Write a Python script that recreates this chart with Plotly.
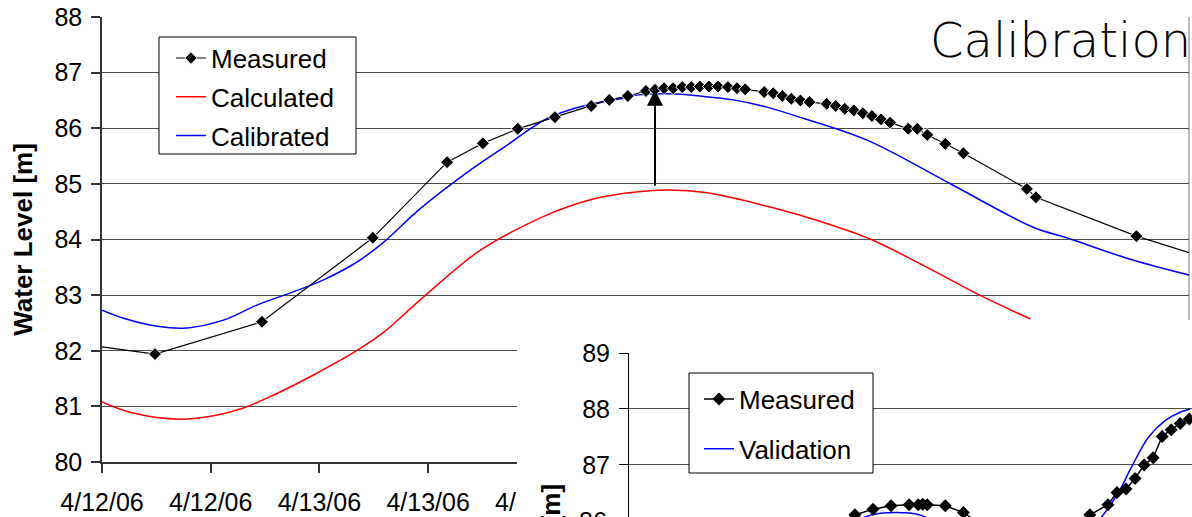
import plotly.graph_objects as go
import pandas as pd

# ---------------- data ----------------
START = pd.Timestamp("2006-04-12 00:00")

# Main chart: hours after 4/12/06 00:00
meas_hours = [0, 5.85, 17.66, 29.9, 38.1, 42.05, 45.9, 50.0, 54.0, 56.0,
              58.05, 60.05, 61.05, 62.05, 63.05, 64.05, 65.05, 66.0, 67.0, 68.0,
              69.1, 70.1, 71.0, 73.1, 74.1, 75.1, 76.1, 77.1, 78.1, 80.0,
              81.0, 82.0, 83.0, 84.0, 85.0, 86.0, 87.0, 89.0, 90.0, 91.1,
              93.1, 95.1, 102.1, 103.1, 114.2, 120.1]
meas_level = [82.07, 81.94, 82.52, 84.03, 85.39, 85.73, 85.99, 86.20, 86.40, 86.51,
              86.58, 86.67, 86.69, 86.72, 86.72, 86.74, 86.74, 86.75, 86.75, 86.75,
              86.74, 86.72, 86.70, 86.65, 86.63, 86.58, 86.53, 86.50, 86.47, 86.44,
              86.40, 86.35, 86.32, 86.27, 86.22, 86.16, 86.10, 85.99, 85.99, 85.88,
              85.72, 85.55, 84.91, 84.76, 84.06, 83.76]

calc_hours = [0, 3.4, 8.6, 12.3, 15.6, 18.9, 23.3, 27.7, 31.0, 35.1, 41.7,
              48.4, 52.0, 55.8, 62.4, 66.8, 74.1, 79.6, 84.8, 90.6, 96.9, 102.5]
calc_level = [81.08, 80.88, 80.77, 80.83, 80.97, 81.20, 81.56, 81.96, 82.32, 82.91, 83.80,
              84.39, 84.62, 84.78, 84.89, 84.84, 84.57, 84.31, 84.01, 83.54, 83.00, 82.57]

cal_hours = [0, 2.3, 6.1, 9.4, 13.4, 17.1, 20.8, 24.4, 28.2, 31.0, 35.1,
             40.7, 44.4, 49.2, 53.6, 57.5, 59.2, 62.9, 66.0, 69.7, 73.4, 77.0,
             84.4, 93.9, 102.8, 106.5, 113.8, 120.0]
cal_level = [82.73, 82.59, 82.44, 82.41, 82.55, 82.82, 83.04, 83.27, 83.60, 83.94, 84.55,
             85.25, 85.66, 86.18, 86.42, 86.54, 86.60, 86.62, 86.58, 86.51, 86.38, 86.20,
             85.79, 84.98, 84.22, 84.03, 83.63, 83.36]

# arrow from calculated peak up to measured
arrow_hour = 61.05
arrow_from = 84.94
arrow_to = 86.69

# Inset (validation) chart: hours after the start of its visible window
val_meas_hours = [23.0, 25.0, 27.0, 29.0, 31.0, 32.0, 32.5, 33.0, 35.0, 37.0,
                  39.0, 49.0, 51.0, 53.0, 54.0, 55.0, 56.0, 57.0, 58.0, 59.0,
                  60.0, 61.0, 62.0]
val_meas_level = [85.84, 86.11, 86.21, 86.27, 86.29, 86.29, 86.30, 86.29, 86.27, 86.15,
                  85.93, 85.88, 86.11, 86.29, 86.51, 86.57, 86.76, 87.00, 87.13, 87.51,
                  87.63, 87.74, 87.82]
val_hours = [22.0, 24.4, 26.9, 29.6, 32.1, 34.9, 37.0, 50.3, 52.3, 54.2, 55.6,
             57.5, 59.4, 61.1, 62.1]
val_level = [85.75, 85.95, 86.11, 86.15, 86.11, 85.90, 85.70, 85.70, 86.07, 86.52, 86.96,
             87.50, 87.80, 87.95, 88.00]

main_yticks = [80, 81, 82, 83, 84, 85, 86, 87, 88]
inset_yticks = [87, 88, 89]

# ---------------- layout helpers ----------------
W, H = 1192, 517
FONT = "Liberation Sans, Arial, sans-serif"
GRID = "#4a4a4a"


def fx(p):
    return p / W


def fy(p):
    return 1 - p / H


def to_time(hours):
    return [START + pd.Timedelta(hours=h) for h in hours]


fig = go.Figure()

# main chart traces
fig.add_trace(go.Scatter(
    x=to_time(calc_hours), y=calc_level, mode="lines", name="Calculated",
    line=dict(color="#FF0000", width=1.5, shape="spline", smoothing=1),
    legendgroup="c", legendrank=2, hoverinfo="skip"))
fig.add_trace(go.Scatter(
    x=to_time(cal_hours), y=cal_level, mode="lines", name="Calibrated",
    line=dict(color="#0000FF", width=1.5, shape="spline", smoothing=1),
    legendgroup="k", legendrank=3, hoverinfo="skip"))
msizes = [10] * len(meas_hours)
msizes[0] = 0
msizes[-1] = 0
fig.add_trace(go.Scatter(
    x=to_time(meas_hours), y=meas_level, mode="lines+markers", name="Measured",
    line=dict(color="black", width=1.2),
    marker=dict(symbol="diamond", size=msizes, color="black", opacity=1),
    legendgroup="m", legendrank=1, hoverinfo="skip"))

# cover (white chart area of the inset, drawn over the main chart)
fig.add_trace(go.Scatter(x=[], y=[], xaxis="x2", yaxis="y2",
                         showlegend=False, hoverinfo="skip"))

# inset traces
fig.add_trace(go.Scatter(
    x=val_hours, y=val_level, mode="lines", name="Validation",
    line=dict(color="#0000FF", width=1.5, shape="spline", smoothing=1),
    xaxis="x3", yaxis="y3", legend="legend2", legendgroup="v", legendrank=2,
    hoverinfo="skip"))
fig.add_trace(go.Scatter(
    x=val_meas_hours, y=val_meas_level, mode="lines+markers", name="Measured",
    line=dict(color="black", width=1.5),
    marker=dict(symbol="diamond", size=10, color="black", opacity=1),
    xaxis="x3", yaxis="y3", legend="legend2", legendgroup="vm", legendrank=1,
    hoverinfo="skip"))

tickfont = dict(family=FONT, size=25, color="black")

inset_dom = [0, (H - 353) / H]
inset_rng = [86.071, 89]

hidden_axis = dict(showgrid=False, zeroline=False, showline=False,
                   showticklabels=False, ticks="", automargin=False)

fig.update_layout(
    template="none",
    width=W, height=H,
    margin=dict(l=0, r=0, t=0, b=0, pad=0, autoexpand=False),
    paper_bgcolor="white", plot_bgcolor="white",
    font=dict(family=FONT, color="black"),
    xaxis=dict(
        domain=[fx(102), fx(1189)],
        type="date",
        range=[START, START + pd.Timedelta(hours=120)],
        tick0=START, dtick=12 * 3600 * 1000,
        tickformat="%-m/%d/%y",
        showgrid=False, zeroline=False, automargin=False,
        showline=True, linecolor="#333333", linewidth=1.5,
        ticks="outside", ticklen=9, tickcolor="#333333", tickwidth=1.5,
        tickfont=tickfont, ticklabelstandoff=8,
        anchor="y",
    ),
    yaxis=dict(
        domain=[(H - 462) / H, (H - 17) / H],
        range=[80, 88], tickvals=main_yticks,
        showgrid=True, gridcolor=GRID, gridwidth=1, zeroline=False,
        automargin=False,
        showline=True, linecolor="#333333", linewidth=1.5,
        ticks="outside", ticklen=9, tickcolor="#333333", tickwidth=1.5,
        tickfont=tickfont, ticklabelstandoff=4,
        title=dict(text="<b>Water Level [m]</b>",
                   font=dict(family=FONT, size=26, color="black"), standoff=14),
        anchor="x",
    ),
    xaxis2=dict(domain=[fx(517), 1], range=[0, 1], anchor="y2", **hidden_axis),
    yaxis2=dict(domain=[0, (H - 320) / H], range=[0, 1], anchor="x2", **hidden_axis),
    xaxis3=dict(domain=[fx(629), 1], range=[0, 62.3], anchor="y3", **hidden_axis),
    yaxis3=dict(domain=inset_dom, range=inset_rng, tickvals=inset_yticks,
                showgrid=True, gridcolor=GRID, gridwidth=1, zeroline=False,
                automargin=False,
                showline=True, linecolor="black", linewidth=1,
                ticks="outside", ticklen=9, tickcolor="black",
                tickfont=tickfont, ticklabelstandoff=4, anchor="x3"),
    legend=dict(x=fx(171), y=fy(34.6), xanchor="left", yanchor="top",
                bgcolor="rgba(0,0,0,0)", borderwidth=0,
                font=dict(family=FONT, size=26, color="black"),
                traceorder="grouped", tracegroupgap=2, itemwidth=30),
    legend2=dict(x=fx(699), y=fy(375.6), xanchor="left", yanchor="top",
                 bgcolor="rgba(0,0,0,0)", borderwidth=0,
                 font=dict(family=FONT, size=26, color="black"),
                 traceorder="grouped", tracegroupgap=13, itemwidth=30),
    showlegend=True,
)

# legend boxes and main plot-area right border
fig.add_shape(type="rect", xref="paper", yref="paper",
              x0=fx(159), x1=fx(356), y0=fy(154), y1=fy(37),
              line=dict(color="black", width=1), fillcolor="white", layer="above")
fig.add_shape(type="rect", xref="paper", yref="paper",
              x0=fx(689), x1=fx(873), y0=fy(473), y1=fy(373),
              line=dict(color="black", width=1), fillcolor="white", layer="above")
fig.add_shape(type="line", xref="paper", yref="paper",
              x0=fx(1189), x1=fx(1189), y0=(H - 462) / H, y1=(H - 17) / H,
              line=dict(color="#8c8c8c", width=1.2), layer="below")

# arrow
fig.add_annotation(
    x=START + pd.Timedelta(hours=arrow_hour), y=arrow_to,
    ax=START + pd.Timedelta(hours=arrow_hour), ay=arrow_from,
    xref="x", yref="y", axref="x", ayref="y",
    text="", showarrow=True, arrowhead=2, arrowsize=1.6, arrowwidth=2,
    arrowcolor="black", standoff=0, startstandoff=0)

# chart title
fig.add_annotation(
    x=fx(928), y=fy(40), xref="paper", yref="paper",
    xanchor="left", yanchor="middle", showarrow=False,
    text="Calibration",
    font=dict(family="DejaVu Sans", size=48, color="black", weight=200))

# inset axis title (mostly outside the visible page)
fig.add_annotation(
    x=fx(550), y=fy(482), xref="paper", yref="paper",
    xanchor="center", yanchor="top", showarrow=False, textangle=-90,
    text="<b>Water Level [m]</b>",
    font=dict(family=FONT, size=26, color="black"))

# partially visible "86" tick label of the inset axis
y86 = inset_dom[0] + (86 - inset_rng[0]) / (inset_rng[1] - inset_rng[0]) * (inset_dom[1] - inset_dom[0])
fig.add_annotation(
    x=fx(609), y=y86, xref="paper", yref="paper",
    xanchor="right", yanchor="middle", showarrow=False,
    text="86", font=tickfont)

fig.write_html(
    "out.html",
    config={"displayModeBar": False},
    post_script="document.body.style.margin='0';document.body.style.overflow='hidden';",
)
